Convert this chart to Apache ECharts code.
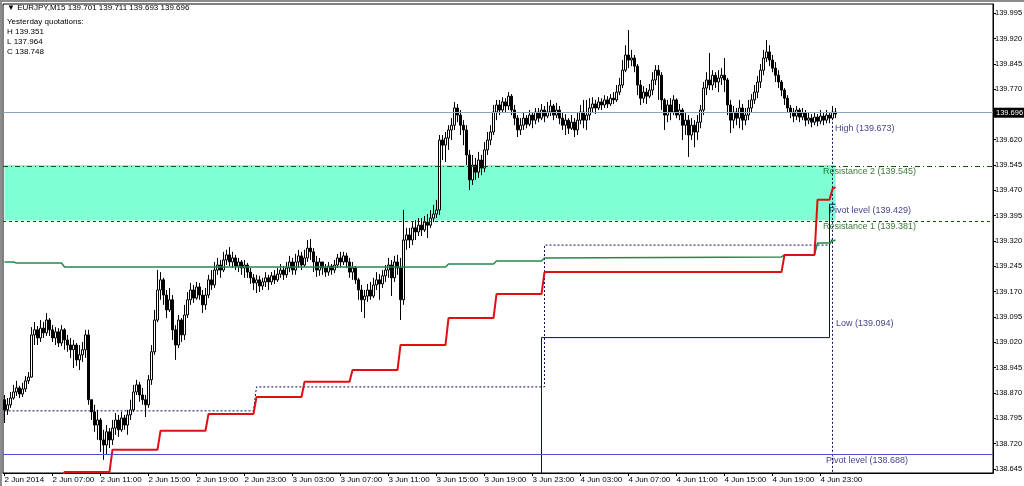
<!DOCTYPE html>
<html><head><meta charset="utf-8">
<script src="https://cdn.jsdelivr.net/npm/echarts@6/dist/echarts.min.js"></script>
<style>html,body{margin:0;padding:0;background:#fff}#c{width:1024px;height:486px}</style>
</head><body><div id="c"></div>
<script>
// ---------- data ----------
const slotCount = 330; // bars + chart shift area (M15 slots starting 2 Jun 2014 03:00)
const xTickLabels = ['2 Jun 2014','2 Jun 07:00','2 Jun 11:00','2 Jun 15:00','2 Jun 19:00','2 Jun 23:00',
  '3 Jun 03:00','3 Jun 07:00','3 Jun 11:00','3 Jun 15:00','3 Jun 19:00','3 Jun 23:00',
  '4 Jun 03:00','4 Jun 07:00','4 Jun 11:00','4 Jun 15:00','4 Jun 19:00','4 Jun 23:00'];
const yTickLabels = [138.645,138.720,138.795,138.870,138.945,139.020,139.095,139.170,139.245,139.320,
  139.395,139.470,139.545,139.620,139.770,139.845,139.920,139.995];

const closes = [
138.820,138.835,138.855,138.873,138.885,138.867,138.882,138.906,138.917,139.042,
139.057,139.033,139.062,139.048,139.086,139.057,139.033,139.051,139.018,139.057,
139.027,139.012,138.998,139.012,138.968,138.983,138.998,139.042,138.850,138.814,
138.775,138.790,138.731,138.716,138.755,138.731,138.766,138.790,138.761,138.796,
138.775,138.805,138.820,138.873,138.894,138.864,138.850,138.835,138.909,138.992,
139.086,139.175,139.205,139.160,139.116,139.146,139.057,139.012,139.086,139.042,
139.101,139.146,139.175,139.151,139.184,139.160,139.131,139.160,139.205,139.190,
139.234,139.249,139.234,139.264,139.279,139.258,139.270,139.246,139.258,139.240,
139.249,139.228,139.211,139.196,139.205,139.187,139.199,139.211,139.199,139.217,
139.205,139.222,139.234,139.220,139.240,139.258,139.234,139.258,139.276,139.249,
139.270,139.299,139.288,139.258,139.234,139.258,139.240,139.228,139.246,139.234,
139.249,139.270,139.258,139.276,139.258,139.228,139.240,139.205,139.175,139.146,
139.157,139.175,139.157,139.190,139.205,139.193,139.217,139.234,139.249,139.211,
139.258,139.240,139.146,139.323,139.338,139.323,139.359,139.347,139.367,139.353,
139.376,139.367,139.388,139.400,139.412,139.619,139.604,139.625,139.649,139.663,
139.714,139.693,139.663,139.649,139.575,139.501,139.545,139.524,139.560,139.536,
139.590,139.619,139.643,139.702,139.723,139.708,139.732,139.720,139.749,139.708,
139.684,139.649,139.663,139.684,139.666,139.693,139.678,139.702,139.684,139.708,
139.690,139.702,139.720,139.693,139.708,139.684,139.663,139.678,139.654,139.672,
139.649,139.678,139.702,139.678,139.693,139.714,139.726,139.714,139.732,139.723,
139.738,139.726,139.743,139.738,139.761,139.782,139.826,139.871,139.856,139.862,
139.838,139.782,139.743,139.761,139.749,139.767,139.797,139.826,139.811,139.738,
139.693,139.723,139.702,139.738,139.693,139.708,139.663,139.678,139.634,139.663,
139.643,139.672,139.708,139.773,139.797,139.782,139.811,139.791,139.803,139.811,
139.797,139.723,139.678,139.702,139.684,139.714,139.678,139.693,139.714,139.738,
139.761,139.791,139.826,139.862,139.880,139.856,139.832,139.811,139.791,139.767,
139.743,139.714,139.702,139.690,139.708,139.687,139.699,139.678,139.684,139.672,
139.687,139.675,139.690,139.678,139.693,139.684,139.702,139.696];

const opens = [
138.850,138.820,138.835,138.855,138.873,138.885,138.867,138.882,138.906,138.917,
139.042,139.057,139.033,139.062,139.048,139.086,139.057,139.033,139.051,139.018,
139.057,139.027,139.012,138.998,139.012,138.968,138.983,138.998,139.042,138.850,
138.814,138.775,138.790,138.731,138.716,138.755,138.731,138.766,138.790,138.761,
138.796,138.775,138.805,138.820,138.873,138.894,138.864,138.850,138.835,138.909,
138.992,139.086,139.175,139.205,139.160,139.116,139.146,139.057,139.012,139.086,
139.042,139.101,139.146,139.175,139.151,139.184,139.160,139.131,139.160,139.205,
139.190,139.234,139.249,139.234,139.264,139.279,139.258,139.270,139.246,139.258,
139.240,139.249,139.228,139.211,139.196,139.205,139.187,139.199,139.211,139.199,
139.217,139.205,139.222,139.234,139.220,139.240,139.258,139.234,139.258,139.276,
139.249,139.270,139.299,139.288,139.258,139.234,139.258,139.240,139.228,139.246,
139.234,139.249,139.270,139.258,139.276,139.258,139.228,139.240,139.205,139.175,
139.146,139.157,139.175,139.157,139.190,139.205,139.193,139.217,139.234,139.249,
139.211,139.258,139.240,139.146,139.323,139.338,139.323,139.359,139.347,139.367,
139.353,139.376,139.367,139.388,139.400,139.412,139.619,139.604,139.625,139.649,
139.663,139.714,139.693,139.663,139.649,139.575,139.501,139.545,139.524,139.560,
139.536,139.590,139.619,139.643,139.702,139.723,139.708,139.732,139.720,139.749,
139.708,139.684,139.649,139.663,139.684,139.666,139.693,139.678,139.702,139.684,
139.708,139.690,139.702,139.720,139.693,139.708,139.684,139.663,139.678,139.654,
139.672,139.649,139.678,139.702,139.678,139.693,139.714,139.726,139.714,139.732,
139.723,139.738,139.726,139.743,139.738,139.761,139.782,139.826,139.871,139.856,
139.862,139.838,139.782,139.743,139.761,139.749,139.767,139.797,139.826,139.811,
139.738,139.693,139.723,139.702,139.738,139.693,139.708,139.663,139.678,139.634,
139.663,139.643,139.672,139.708,139.773,139.797,139.782,139.811,139.791,139.803,
139.811,139.797,139.723,139.678,139.702,139.684,139.714,139.678,139.693,139.714,
139.738,139.761,139.791,139.826,139.862,139.880,139.856,139.832,139.811,139.791,
139.767,139.743,139.714,139.702,139.690,139.708,139.687,139.699,139.678,139.684,
139.672,139.687,139.675,139.690,139.678,139.693,139.684,139.702];

const highs = [
138.864,138.855,138.873,138.894,138.906,138.891,138.900,138.920,138.932,139.065,
139.080,139.068,139.086,139.080,139.107,139.092,139.071,139.065,139.062,139.071,
139.062,139.042,139.033,139.027,139.018,139.012,139.021,139.057,139.057,138.850,
138.835,138.820,138.796,138.761,138.775,138.766,138.790,138.811,138.805,138.814,
138.805,138.820,138.850,138.894,138.909,138.903,138.885,138.864,138.923,139.012,
139.116,139.234,139.228,139.211,139.175,139.181,139.160,139.071,139.101,139.092,
139.131,139.169,139.196,139.190,139.199,139.196,139.175,139.181,139.220,139.234,
139.258,139.270,139.264,139.288,139.294,139.302,139.288,139.279,139.270,139.264,
139.264,139.255,139.240,139.222,139.220,139.217,139.211,139.228,139.220,139.228,
139.234,139.240,139.252,139.246,139.258,139.276,139.270,139.282,139.294,139.288,
139.294,139.323,139.326,139.299,139.276,139.270,139.258,139.252,139.258,139.252,
139.264,139.282,139.288,139.288,139.285,139.270,139.258,139.246,139.211,139.190,
139.175,139.193,139.199,139.211,139.228,139.222,139.234,139.249,139.270,139.264,
139.276,139.279,139.270,139.412,139.359,139.359,139.376,139.382,139.388,139.388,
139.394,139.400,139.412,139.427,139.442,139.634,139.634,139.643,139.663,139.684,
139.732,139.726,139.708,139.678,139.663,139.590,139.575,139.566,139.584,139.575,
139.613,139.643,139.663,139.723,139.738,139.738,139.746,139.743,139.761,139.755,
139.723,139.693,139.684,139.702,139.693,139.708,139.702,139.714,139.714,139.726,
139.720,139.732,139.738,139.726,139.729,139.720,139.702,139.696,139.684,139.693,
139.684,139.702,139.723,139.738,139.738,139.743,139.746,139.738,139.746,139.743,
139.752,139.749,139.755,139.761,139.782,139.803,139.856,139.900,139.945,139.886,
139.871,139.844,139.797,139.779,139.773,139.785,139.820,139.841,139.841,139.820,
139.743,139.738,139.743,139.752,139.743,139.726,139.714,139.702,139.693,139.684,
139.678,139.693,139.723,139.791,139.820,139.877,139.826,139.820,139.826,139.832,
139.862,139.803,139.738,139.720,139.714,139.738,139.726,139.714,139.738,139.755,
139.782,139.809,139.844,139.886,139.915,139.900,139.871,139.850,139.826,139.797,
139.773,139.752,139.723,139.714,139.720,139.714,139.714,139.708,139.702,139.696,
139.699,139.696,139.708,139.699,139.708,139.702,139.720,139.714];

const lows = [
138.781,138.805,138.826,138.850,138.861,138.855,138.858,138.873,138.897,138.915,
139.012,139.012,139.021,139.033,139.039,139.039,139.021,139.012,139.006,139.009,
138.998,138.992,138.974,138.944,138.950,138.938,138.962,138.974,138.835,138.790,
138.755,138.731,138.695,138.672,138.687,138.707,138.716,138.746,138.740,138.755,
138.761,138.746,138.790,138.814,138.864,138.844,138.835,138.799,138.826,138.894,
138.983,139.080,139.146,139.131,139.092,139.110,139.027,138.968,139.003,139.021,
139.027,139.092,139.131,139.137,139.146,139.146,139.107,139.116,139.151,139.175,
139.181,139.220,139.211,139.228,139.249,139.246,139.240,139.234,139.228,139.220,
139.211,139.211,139.193,139.175,139.166,139.169,139.175,139.184,139.175,139.190,
139.193,139.199,139.211,139.205,139.211,139.228,139.220,139.220,139.240,139.234,
139.243,139.258,139.264,139.228,139.214,139.217,139.220,139.214,139.217,139.220,
139.225,139.240,139.243,139.249,139.240,139.211,139.205,139.193,139.146,139.110,
139.092,139.140,139.146,139.151,139.175,139.146,139.181,139.199,139.211,139.157,
139.199,139.220,139.086,139.131,139.294,139.299,139.308,139.323,139.335,139.335,
139.347,139.329,139.359,139.376,139.388,139.397,139.560,139.554,139.590,139.619,
139.649,139.672,139.634,139.604,139.545,139.471,139.486,139.501,139.507,139.515,
139.524,139.575,139.604,139.634,139.678,139.693,139.699,139.702,139.708,139.693,
139.663,139.628,139.634,139.649,139.654,139.660,139.654,139.666,139.672,139.678,
139.672,139.684,139.690,139.678,139.684,139.666,139.649,139.634,139.637,139.649,
139.628,139.634,139.666,139.654,139.649,139.678,139.702,139.696,139.708,139.708,
139.714,139.714,139.720,139.726,139.732,139.752,139.773,139.820,139.832,139.838,
139.820,139.752,139.723,139.729,139.726,139.743,139.752,139.782,139.738,139.708,
139.649,139.672,139.678,139.693,139.684,139.678,139.619,139.634,139.569,139.619,
139.598,139.619,139.654,139.693,139.752,139.767,139.767,139.773,139.761,139.782,
139.761,139.693,139.640,139.654,139.663,139.654,139.649,139.663,139.678,139.702,
139.726,139.743,139.773,139.811,139.850,139.838,139.820,139.791,139.773,139.749,
139.723,139.702,139.684,139.672,139.678,139.672,139.678,139.660,139.666,139.657,
139.663,139.660,139.666,139.663,139.669,139.669,139.678,139.684];

// indicator lines: bar index + value at each corner
const greenIdx = [0,3,4,19,20,147,148,163,164,179,180,259,260,270,271,275,276,277];
const greenVal = [139.258,139.258,139.255,139.255,139.243,139.243,139.252,139.252,139.261,139.261,139.270,139.273,139.279,139.279,139.314,139.314,139.320,139.323];
const redIdx = [19,20,35,36,51,52,67,68,83,84,99,100,115,116,131,132,147,148,163,164,179,180,259,260,270,271,275,276,277];
const redVal = [138.600,138.636,138.636,138.702,138.702,138.758,138.758,138.808,138.808,138.858,138.858,138.903,138.903,138.938,138.938,139.012,139.012,139.092,139.092,139.163,139.163,139.228,139.228,139.279,139.279,139.442,139.442,139.474,139.480];
const dottedIdx = [0,83,84,180,180,275,276];
const dottedVal = [138.817,138.817,138.888,138.888,139.308,139.308,139.330];
const pivotStepIdx = [179,179,275,275,277];
const pivotStepVal = [138.550,139.034,139.034,139.429,139.429];
const hlVertIdx = [276,276];
const hlVertVal = [139.673,138.550];

const levelHigh = 139.673, levelR2 = 139.545, levelPivot = 139.429, levelR1 = 139.381,
      levelLow = 139.094, levelPivotPrev = 138.688, bidPrice = 139.696;
const labelBar = 276;

const headerText = '\u25BC EURJPY,M15 139.701 139.711 139.693 139.696';
const quoteLines = ['Yesterday quotations:', 'H 139.351', 'L 137.964', 'C 138.748'];

// ---------- build ----------
const categories = [];
const t0 = Date.UTC(2014, 5, 2, 3, 0);
for (let i = 0; i < slotCount; i++) {
  const d = new Date(t0 + i * 900000);
  categories.push(d.toISOString().slice(0, 16).replace('T', ' '));
}
const candleData = closes.map((c, i) => [opens[i], c, lows[i], highs[i]]);
const pts = (ix, vals) => ix.map((x, k) => [x, vals[k]]);
const FONT = '"Liberation Sans", "DejaVu Sans", sans-serif';
const tickIdx = (i) => i % 16 === 0 && i / 16 < xTickLabels.length;

const navy = '#0c0c66', dgreen = '#085808';
const lbl = (name, val, dx, color) => ({
  value: [labelBar, val], name,
  label: { show: true, position: 'right', distance: 0, offset: [dx, 6.5], color, formatter: '{b}',
           fontFamily: FONT, fontSize: 9 }
});

const option = {
  animation: false,
  backgroundColor: '#fff',
  grid: { left: 3, right: 31, top: 4, bottom: 13, show: true, borderColor: '#000', borderWidth: 1,
          backgroundColor: '#fff', outerBoundsMode: 'none', containLabel: false },
  xAxis: {
    type: 'category', data: categories, boundaryGap: true,
    axisLine: { lineStyle: { color: '#000', width: 1 } },
    axisTick: { show: true, interval: tickIdx, alignWithLabel: true, length: 3, lineStyle: { color: '#000' } },
    axisLabel: { interval: tickIdx, align: 'left', margin: 3, fontSize: 8, color: '#000', fontFamily: FONT,
      hideOverlap: false, formatter: (v, i) => xTickLabels[Math.round(i / 16)] },
    splitLine: { show: false }
  },
  yAxis: {
    type: 'value', position: 'right', min: 138.633, max: 140.022,
    axisLine: { show: true, lineStyle: { color: '#000' } },
    axisTick: { show: true, length: 3, customValues: yTickLabels, lineStyle: { color: '#000' } },
    axisLabel: { customValues: yTickLabels, margin: 2, fontSize: 7.5, color: '#000', fontFamily: FONT,
      formatter: v => v.toFixed(3) },
    splitLine: { show: false }
  },
  graphic: [
    { type: 'rect', shape: { x: 0, y: 0, width: 1024, height: 2 }, style: { fill: '#8c8c8c' }, z: 100 },
    { type: 'rect', shape: { x: 0, y: 0, width: 2, height: 486 }, style: { fill: '#8c8c8c' }, z: 100 },
    { type: 'text', left: 7, top: 4, style: { text: headerText, font: '8px ' + FONT, fill: '#000' }, z: 100 },
    ...quoteLines.map((t, k) => ({ type: 'text', left: 7, top: 18 + k * 10,
      style: { text: t, font: '8px ' + FONT, fill: '#000' }, z: 100 }))
  ],
  series: [
    {
      name: 'levels', type: 'line', data: [], z: 1, silent: true,
      markArea: { silent: true, itemStyle: { color: '#7fffd4' },
        data: [[{ xAxis: categories[0], yAxis: levelR1 }, { xAxis: categories[closes.length - 1], yAxis: levelR2 }]] },
      markLine: { silent: true, symbol: ['none', 'none'], animation: false,
        data: [
          { yAxis: levelR2, lineStyle: { color: dgreen, width: 1, type: [5, 3, 1, 3] }, label: { show: false } },
          { yAxis: levelR1, lineStyle: { color: dgreen, width: 1, type: [3, 3] }, label: { show: false } },
          { yAxis: levelPivotPrev, lineStyle: { color: '#4f4fd6', width: 1, type: 'solid' }, label: { show: false } },
          { yAxis: bidPrice, lineStyle: { color: '#8fa3b8', width: 1, type: 'solid' },
            label: { show: true, position: 'end', distance: 1, formatter: bidPrice.toFixed(3), color: '#fff',
              backgroundColor: '#000', padding: [1, 2, 1, 2], fontSize: 7.5, fontFamily: FONT } }
        ] }
    },
    { name: 'dotted', type: 'line', data: pts(dottedIdx, dottedVal), symbol: 'none', z: 2, silent: true,
      lineStyle: { color: navy, width: 1, type: [2, 2] } },
    { name: 'hlVert', type: 'line', data: pts(hlVertIdx, hlVertVal), symbol: 'none', z: 2, silent: true,
      lineStyle: { color: navy, width: 1, type: [2, 2] } },
    { name: 'pivotStep', type: 'line', data: pts(pivotStepIdx, pivotStepVal), symbol: 'none', z: 2, silent: true,
      lineStyle: { color: navy, width: 1 } },
    { name: 'price', type: 'candlestick', data: candleData, barWidth: 3, z: 3,
      itemStyle: { color: '#fff', color0: '#000', borderColor: '#000', borderColor0: '#000', borderWidth: 1 } },
    { name: 'green', type: 'line', data: pts(greenIdx, greenVal), symbol: 'none', z: 4, silent: true,
      lineStyle: { color: '#23894a', width: 1.5 } },
    { name: 'red', type: 'line', data: pts(redIdx, redVal), symbol: 'none', z: 4, silent: true,
      lineStyle: { color: '#e01010', width: 2 } },
    { name: 'labels', type: 'scatter', symbolSize: 1, itemStyle: { color: 'rgba(0,0,0,0)' }, z: 5, silent: true,
      data: [
        lbl('High (' + levelHigh.toFixed(3) + ')', levelHigh, 2, navy),
        lbl('Resistance 2 (' + levelR2.toFixed(3) + ')', levelR2, -10, dgreen),
        lbl('Pivot level (' + levelPivot.toFixed(3) + ')', levelPivot, -4, navy),
        lbl('Resistance 1 (' + levelR1.toFixed(3) + ')', levelR1, -10, dgreen),
        lbl('Low (' + levelLow.toFixed(3) + ')', levelLow, 3, navy),
        lbl('Pivot level (' + levelPivotPrev.toFixed(3) + ')', levelPivotPrev, -7, navy)
      ] }
  ]
};
const chart = echarts.init(document.getElementById('c'));
chart.setOption(option);
</script>
</body></html>
